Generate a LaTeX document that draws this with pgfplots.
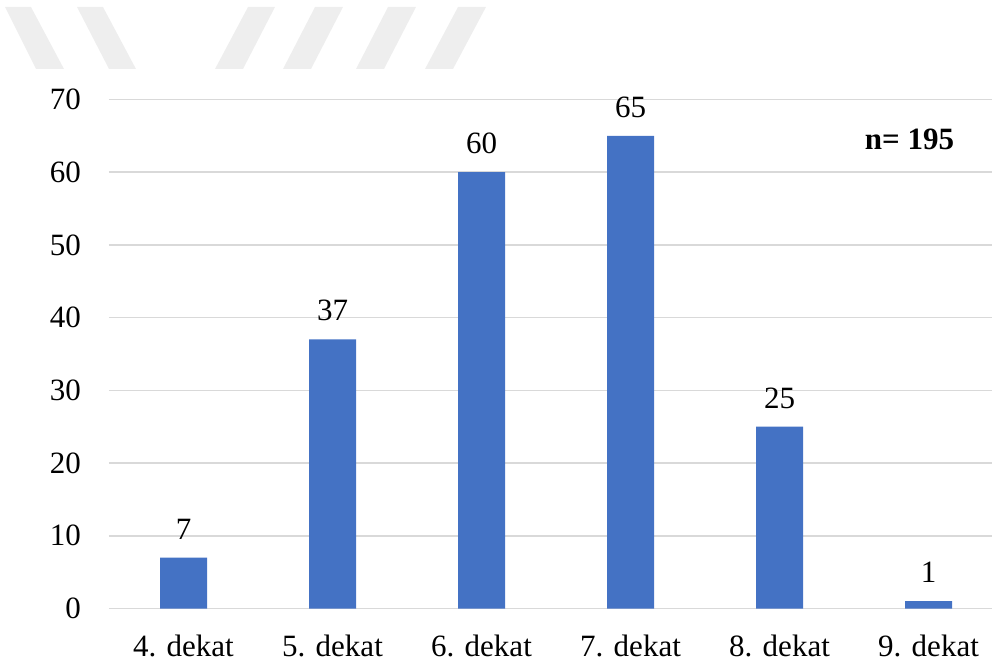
\documentclass[border=0pt]{standalone}
\usepackage{fontspec}
\setmainfont{Liberation Serif}
\usepackage{pgfplots}
\pgfplotsset{compat=1.18}
\definecolor{barblue}{HTML}{4472C4}
\definecolor{gridgray}{HTML}{D9D9D9}
\definecolor{wm}{HTML}{EEEEEE}
\begin{document}
\fontsize{31}{36}\selectfont
\begin{tikzpicture}
\path[use as bounding box] (-109pt,-56.5pt) rectangle (883pt,608.5pt);
% faint watermark stripes at the top
\begin{scope}[x=1pt,y=1pt,shift={(-109pt,608.5pt)},yscale=-1]
\fill[wm] (5,7) -- (31,7) -- (64,69) -- (36,69) -- cycle;
\fill[wm] (77,7) -- (103,7) -- (136,69) -- (109,69) -- cycle;
\fill[wm] (248,7) -- (275,7) -- (243,69) -- (215,69) -- cycle;
\fill[wm] (315,7) -- (343,7) -- (311,69) -- (283,69) -- cycle;
\fill[wm] (388,7) -- (416,7) -- (384,69) -- (356,69) -- cycle;
\fill[wm] (458,7) -- (486,7) -- (453,69) -- (425,69) -- cycle;
\end{scope}
\begin{axis}[
  at={(0,0)}, anchor=south west,
  scale only axis, width=883pt, height=509pt,
  xmin=-0.5, xmax=5.426, ymin=0, ymax=70,
  ytick={0,10,...,70},
  xtick={0,...,5},
  xticklabels={4. dekat,5. dekat,6. dekat,7. dekat,8. dekat,9. dekat},
  ymajorgrids,
  grid style={draw=gridgray, line width=1.5pt},
  axis line style={draw=none},
  major tick length=0pt,
  tick style={draw=none},
  /pgf/number format/assume math mode=true,
  ticklabel style={font=\fontsize{31}{36}\selectfont},
  yticklabel style={anchor=east, inner sep=0pt, xshift=-28pt},
  xticklabel style={anchor=base, inner sep=0pt, yshift=-47.5pt},
  ybar, bar width=47pt,
  nodes near coords,
  nodes near coords style={anchor=base, inner sep=0pt, yshift=18.5pt, font=\fontsize{31}{36}\selectfont, text=black},
  clip=false,
]
\addplot[fill=barblue, draw=none] coordinates {(0,7) (1,37) (2,60) (3,65) (4,25) (5,1)};
\node[anchor=base, inner sep=0pt, font=\fontsize{31}{36}\selectfont\bfseries] at (axis cs:4.872,63.16) {n= 195};
\end{axis}
\end{tikzpicture}
\end{document}
